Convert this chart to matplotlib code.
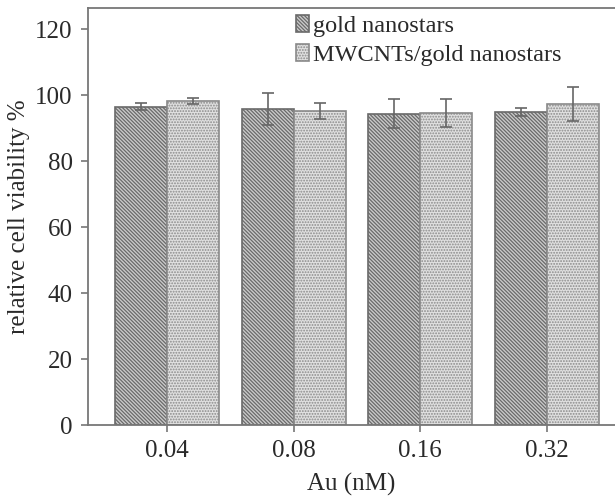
import numpy as np
import matplotlib
matplotlib.use("Agg")
import matplotlib.pyplot as plt

plt.rcParams['font.family'] = ['Liberation Serif', 'DejaVu Serif']
plt.rcParams['hatch.linewidth'] = 0.9

# data
doses = ['0.04', '0.08', '0.16', '0.32']
gold = [96.5, 95.8, 94.4, 95.0]
gold_err = [1.0, 4.8, 4.3, 1.2]
mwcnt = [98.2, 95.2, 94.5, 97.3]
mwcnt_err = [0.8, 2.3, 4.2, 5.1]

x = np.arange(len(doses))
w = 0.41

fig = plt.figure(figsize=(6.15, 4.96), dpi=100)
ax = fig.add_axes([88/615, 1 - 425/496, 1 - 88/615, (425 - 8)/496])

b1 = ax.bar(x - w/2, gold, w, facecolor='#cacaca', edgecolor='#6a6a6a',
            hatch='\\' * 9, linewidth=1.2, label='gold nanostars', zorder=2)
b2 = ax.bar(x + w/2, mwcnt, w, facecolor='#e0e0e0', edgecolor='#8a8a8a',
            hatch='......', linewidth=1.2, label='MWCNTs/gold nanostars', zorder=2)
ax.errorbar(x - w/2, gold, yerr=gold_err, fmt='none', ecolor='#666666',
            elinewidth=1.2, capsize=4.5, capthick=1.2, zorder=3)
ax.errorbar(x + w/2, mwcnt, yerr=mwcnt_err, fmt='none', ecolor='#666666',
            elinewidth=1.2, capsize=4.5, capthick=1.2, zorder=3)

ax.set_xlim(-0.624, 3.537)
ax.set_ylim(0, 126.4)
ax.set_xticks(x)
ax.set_xticklabels(doses)
ax.set_yticks(range(0, 121, 20))
ax.tick_params(direction='out', length=5, width=1.2, color='#777777',
               labelsize=18, labelcolor='#2a2a2a', pad=6)
ax.spines['right'].set_visible(False)
for s in ['left', 'top', 'bottom']:
    ax.spines[s].set_color('#777777')
    ax.spines[s].set_linewidth(1.3)

ax.set_xlabel('Au (nM)', fontsize=18, color='#2a2a2a', labelpad=8)
ax.set_ylabel('relative cell viability %', fontsize=18, color='#2a2a2a', labelpad=4)

leg = fig.legend(handles=[b1, b2], loc='upper left',
                 bbox_to_anchor=(296/615, 1 - 15/496), frameon=False,
                 fontsize=17.5, handlelength=0.55, handleheight=0.7,
                 handletextpad=0.15, labelspacing=0.3, borderpad=0,
                 borderaxespad=0)
for t in leg.get_texts():
    t.set_color('#2a2a2a')

fig.savefig('out.png', dpi=100)
